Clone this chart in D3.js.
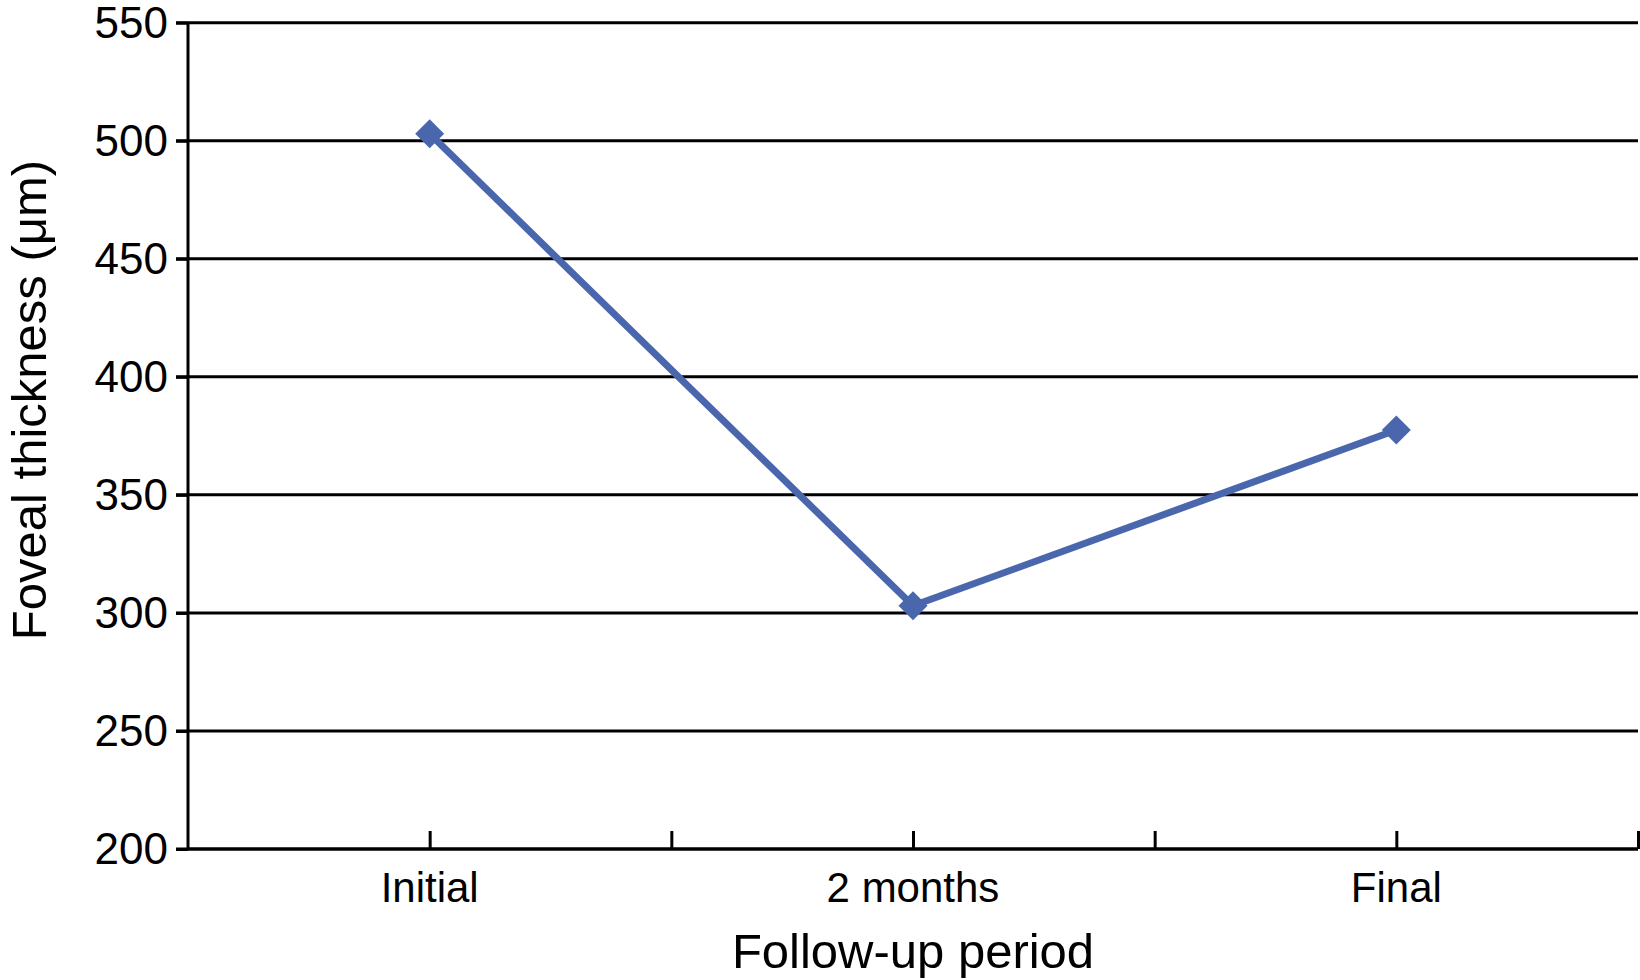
<!DOCTYPE html>
<html>
<head>
<meta charset="utf-8">
<script src="https://cdn.jsdelivr.net/npm/d3@7"></script>
<style>
  html, body { margin: 0; padding: 0; background: #fff; }
  svg { display: block; }
  text { font-family: "Liberation Sans", Arial, Helvetica, sans-serif; fill: #000; }
</style>
</head>
<body>
<svg id="chart" width="1640" height="980"></svg>
<script>
// ---- data ----
const categories = ["Initial", "2 months", "Final"];
const values = [503, 303, 377.5];
const yTicks = [200, 250, 300, 350, 400, 450, 500, 550];
const xTitle = "Follow-up period";
const yTitle = "Foveal thickness (\u03bcm)";

// ---- layout ----
const plotLeft = 188, plotRight = 1638, plotTop = 22.7, plotBottom = 849;
const lineColor = "#4a66ad";

const svg = d3.select("#chart");

const y = d3.scaleLinear().domain([200, 550]).range([plotBottom, plotTop]);
const xi = d3.scaleLinear().domain([0, categories.length]).range([plotLeft, plotRight]);
const xc = i => xi(i + 0.5);

// gridlines (extend left past axis as outward ticks)
svg.append("g")
  .selectAll("line")
  .data(yTicks)
  .join("line")
  .attr("x1", plotLeft - 12)
  .attr("x2", plotRight)
  .attr("y1", d => y(d))
  .attr("y2", d => y(d))
  .attr("stroke", "#000")
  .attr("stroke-width", 3);

// y axis line + labels
const yAxis = d3.axisLeft(y).tickValues(yTicks).tickSize(12).tickPadding(8).tickFormat(d3.format("d"));
const gy = svg.append("g").attr("transform", `translate(${plotLeft},0)`).call(yAxis);
gy.select(".domain").attr("stroke", "#000").attr("stroke-width", 3).attr("d", `M0,${plotTop}V${plotBottom}`);
gy.selectAll(".tick line").attr("stroke", "#000").attr("stroke-width", 3);
gy.selectAll(".tick text")
  .attr("font-family", "'Liberation Sans', Arial, sans-serif")
  .attr("font-size", 44)
  .attr("dy", "0.34em")
  .attr("fill", "#000");

// x axis: ticks upward at half-band steps
const xTickVals = d3.range(1, categories.length * 2 + 1).map(k => k / 2);
const xAxis = d3.axisBottom(xi).tickValues(xTickVals).tickSize(-18).tickFormat("");
const gx = svg.append("g").attr("transform", `translate(0,${plotBottom})`).call(xAxis);
gx.select(".domain").attr("stroke", "#000").attr("stroke-width", 3).attr("d", `M${plotLeft},0H${plotRight}`);
gx.selectAll(".tick line").attr("stroke", "#000").attr("stroke-width", 3);

// x category labels
svg.append("g")
  .selectAll("text")
  .data(categories)
  .join("text")
  .attr("x", (d, i) => xc(i))
  .attr("y", 902)
  .attr("text-anchor", "middle")
  .attr("font-size", 42)
  .text(d => d);

// axis titles
svg.append("text")
  .attr("x", (plotLeft + plotRight) / 2)
  .attr("y", 968)
  .attr("text-anchor", "middle")
  .attr("font-size", 49)
  .text(xTitle);

svg.append("text")
  .attr("transform", `translate(46,400) rotate(-90)`)
  .attr("text-anchor", "middle")
  .attr("font-size", 49)
  .text(yTitle);

// line
const line = d3.line().x((d, i) => xc(i)).y(d => y(d));
svg.append("path")
  .datum(values)
  .attr("d", line)
  .attr("fill", "none")
  .attr("stroke", lineColor)
  .attr("stroke-width", 7)
  .attr("stroke-linejoin", "miter");

// diamond markers
const sym = d3.symbol().type(d3.symbolSquare).size(420);
svg.append("g")
  .selectAll("path")
  .data(values)
  .join("path")
  .attr("d", sym)
  .attr("transform", (d, i) => `translate(${xc(i)},${y(d)}) rotate(45)`)
  .attr("fill", lineColor);
</script>
</body>
</html>
